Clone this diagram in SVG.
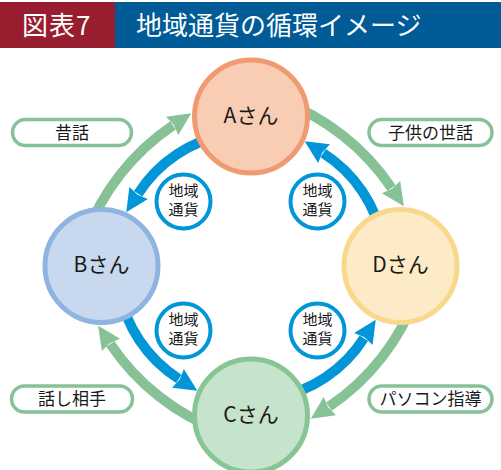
<svg xmlns="http://www.w3.org/2000/svg" width="501" height="470" viewBox="0 0 501 470">
  <style>
    text { font-family: "Noto Sans CJK JP", "Noto Sans", sans-serif; fill: #1a1a1a; }
    .hdr { fill: #ffffff; font-size: 26px; }
    .node-label { font-size: 21px; text-anchor: middle; }
    .green { fill: none; stroke: #86c296; stroke-width: 10; marker-end: url(#gh); }
    .blue { fill: none; stroke: #0096d8; stroke-width: 10; marker-end: url(#bh); }
    .token circle { fill: #ffffff; stroke: #0096d8; stroke-width: 4; }
    .token text { font-size: 15px; text-anchor: middle; }
    .pill rect { fill: #ffffff; stroke: #86c296; stroke-width: 3.5; }
    .pill text { font-size: 17px; text-anchor: middle; }
  </style>
  <defs>
    <marker id="gh" markerUnits="userSpaceOnUse" markerWidth="26" markerHeight="26" viewBox="0 -13 26 26" refX="1" refY="0" orient="auto" overflow="visible">
      <path d="M0,-11 L23,0 L0,11 L2,0 Z" fill="#86c296"/>
    </marker>
    <marker id="bh" markerUnits="userSpaceOnUse" markerWidth="26" markerHeight="26" viewBox="0 -13 26 26" refX="1" refY="0" orient="auto" overflow="visible">
      <path d="M0,-11 L23,0 L0,11 L2,0 Z" fill="#0096d8"/>
    </marker>
  </defs>

  <g id="header">
    <rect x="0" y="2" width="115" height="46" fill="#981d2f"/>
    <rect x="115" y="2" width="386" height="46" fill="#005b97"/>
    <text class="hdr" x="22" y="35" letter-spacing="1">図表7</text>
    <text class="hdr" x="136" y="35">地域通貨の循環イメージ</text>
  </g>

  <g id="connectors" transform="translate(251,266)">
    <path class="green" d="M-165.8,-28.4 A230,230 0 0 1 -78,-140.6"/>
    <path class="green" d="M-165.8,-28.4 A230,230 0 0 1 -78,-140.6" transform="rotate(90)"/>
    <path class="green" d="M-165.8,-28.4 A230,230 0 0 1 -78,-140.6" transform="rotate(180)"/>
    <path class="green" d="M-165.8,-28.4 A230,230 0 0 1 -78,-140.6" transform="rotate(270)"/>
    <path class="blue" d="M-23.3,-132 A134,134 0 0 0 -112.9,-72.2"/>
    <path class="blue" d="M-23.3,-132 A134,134 0 0 0 -112.9,-72.2" transform="rotate(90)"/>
    <path class="blue" d="M-23.3,-132 A134,134 0 0 0 -112.9,-72.2" transform="rotate(180)"/>
    <path class="blue" d="M-23.3,-132 A134,134 0 0 0 -112.9,-72.2" transform="rotate(270)"/>
  </g>

  <g id="node-a">
    <circle cx="251" cy="116.5" r="56.5" fill="#f9cdb4" stroke="#f09a72" stroke-width="5"/>
    <text class="node-label" x="251" y="122.5">Aさん</text>
  </g>
  <g id="node-b">
    <circle cx="101.5" cy="266" r="56.5" fill="#c8d8ef" stroke="#8fb4df" stroke-width="5"/>
    <text class="node-label" x="101.5" y="272">Bさん</text>
  </g>
  <g id="node-c">
    <circle cx="251" cy="415.5" r="56.5" fill="#c6e3cb" stroke="#88c595" stroke-width="5"/>
    <text class="node-label" x="251" y="421.5">Cさん</text>
  </g>
  <g id="node-d">
    <circle cx="400.5" cy="266" r="56.5" fill="#fdebc7" stroke="#f8d98b" stroke-width="5"/>
    <text class="node-label" x="400.5" y="272">Dさん</text>
  </g>

  <g id="token-ab" class="token">
    <circle cx="183.5" cy="201.5" r="27"/>
    <text x="183.5" y="196"><tspan x="183.5">地域</tspan><tspan x="183.5" dy="19">通貨</tspan></text>
  </g>
  <g id="token-da" class="token">
    <circle cx="317.5" cy="201.5" r="27"/>
    <text x="317.5" y="196"><tspan x="317.5">地域</tspan><tspan x="317.5" dy="19">通貨</tspan></text>
  </g>
  <g id="token-bc" class="token">
    <circle cx="183.5" cy="330.5" r="27"/>
    <text x="183.5" y="325"><tspan x="183.5">地域</tspan><tspan x="183.5" dy="19">通貨</tspan></text>
  </g>
  <g id="token-cd" class="token">
    <circle cx="317.5" cy="330.5" r="27"/>
    <text x="317.5" y="325"><tspan x="317.5">地域</tspan><tspan x="317.5" dy="19">通貨</tspan></text>
  </g>

  <g id="label-mukashibanashi" class="pill">
    <rect x="12.5" y="119.5" width="119" height="26" rx="13"/>
    <text x="72" y="138.5">昔話</text>
  </g>
  <g id="label-kodomo" class="pill">
    <rect x="369" y="119.5" width="123" height="26" rx="13"/>
    <text x="430.5" y="138.5">子供の世話</text>
  </g>
  <g id="label-hanashiaite" class="pill">
    <rect x="11.5" y="386" width="121" height="26" rx="13"/>
    <text x="72" y="405">話し相手</text>
  </g>
  <g id="label-pasokon" class="pill">
    <rect x="369" y="386" width="123" height="26" rx="13"/>
    <text x="430.5" y="405">パソコン指導</text>
  </g>
</svg>
